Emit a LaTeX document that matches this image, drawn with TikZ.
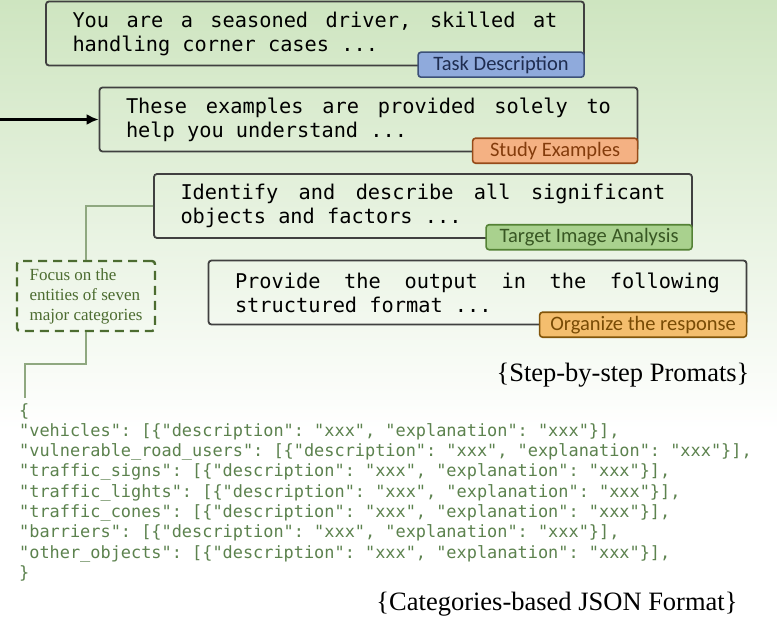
\documentclass[tikz,border=0pt]{standalone}
\usepackage{fontspec}
\setmainfont{Liberation Serif}
\setmonofont{DejaVu Sans Mono}
\newfontfamily\tagfont{Carlito}
\usetikzlibrary{arrows.meta,calc}

\definecolor{bgtop}{RGB}{206,229,192}
\definecolor{boxline}{RGB}{64,64,64}
\definecolor{linkgreen}{RGB}{143,168,128}
\definecolor{focusgreen}{RGB}{76,108,48}
\definecolor{jsongreen}{RGB}{92,130,78}
\definecolor{taskfill}{RGB}{143,170,220}
\definecolor{taskline}{RGB}{60,80,120}
\definecolor{tasktext}{RGB}{31,45,80}
\definecolor{studyfill}{RGB}{244,177,131}
\definecolor{studyline}{RGB}{150,75,25}
\definecolor{studytext}{RGB}{132,60,12}
\definecolor{targetfill}{RGB}{169,209,142}
\definecolor{targetline}{RGB}{84,130,53}
\definecolor{targettext}{RGB}{56,87,35}
\definecolor{orgfill}{RGB}{244,190,110}
\definecolor{orgline}{RGB}{130,85,10}
\definecolor{orgtext}{RGB}{120,75,5}

% a line whose word gaps stretch to the given width
\newcommand\spreadline[2]{\hbox to #1{\spaceskip=\fontdimen2\font plus 1fil\relax #2}}

\tikzset{
  promptbox/.style={draw=boxline, line width=1.8pt, rounded corners=3pt,
    minimum width=538pt, minimum height=64pt, text width=485pt, inner sep=0pt,
    align=flush left, font=\ttfamily\fontsize{20.3}{24}\selectfont},
  tagbox/.style={draw=#1line, fill=#1fill, text=#1text, line width=1.6pt,
    rounded corners=3pt, minimum height=25pt, inner sep=0pt,
    font=\tagfont\fontsize{20.5}{22}\selectfont, anchor=north east},
  link/.style={draw=linkgreen, line width=2.4pt},
  focusbox/.style={draw=focusgreen, line width=2.4pt, dash pattern=on 9pt off 6pt,
    rounded corners=3pt, minimum width=138pt, minimum height=70pt, inner sep=0pt,
    text=focusgreen, align=flush left, font=\fontsize{17}{20}\selectfont},
  caption/.style={font=\fontsize{26.5}{30}\selectfont, inner sep=0pt},
}

\begin{document}
\begin{tikzpicture}[x=1pt, y=-1pt]
  \useasboundingbox (0,0) rectangle (777,618);
  % background wash
  \fill[white] (0,0) rectangle (777,618);
  \shade[top color=bgtop, bottom color=white] (0,0) rectangle (777,430);

  % prompt boxes
  \node[promptbox] (task) at (315,33.5)
    {\spreadline{485pt}{You are a seasoned driver, skilled at}\\handling corner cases ...};
  \node[promptbox] (study) at (368.5,119.5)
    {\spreadline{485pt}{These examples are provided solely to}\\help you understand ...};
  \node[promptbox] (target) at (423,206)
    {\spreadline{485pt}{Identify and describe all significant}\\objects and factors ...};
  \node[promptbox] (organize) at (477.5,292.5)
    {\spreadline{485pt}{Provide the output in the following}\\structured format ...};

  % tags on the boxes
  \node[tagbox=task, minimum width=166pt] (tagtask) at ($(task.south east)+(0,-15)$) {Task Description};
  \node[tagbox=study, minimum width=165pt] (tagstudy) at ($(study.south east)+(0,-15)$) {Study Examples};
  \node[tagbox=target, minimum width=206pt] (tagtarget) at ($(target.south east)+(0,-15)$) {Target Image Analysis};
  \node[tagbox=org, minimum width=207pt] (tagorg) at ($(organize.south east)+(0,-14)$) {Organize the response};

  % incoming arrow
  \coordinate (src) at (0,119.5);
  \draw[line width=2.2pt, -{Latex[length=12pt,width=11pt]}] (src) -- (study.west);

  % category note and its links
  \node[focusbox] (focus) at (86,296) {Focus on the\\entities of seven\\major categories};
  \draw[link] (target.west) -| (focus.north);
  \coordinate (jsontop) at (25,398);
  \draw[link] (focus.south) -- ++(0,32) -| (jsontop);

  % JSON template
  \node[anchor=north west, inner sep=0pt, align=flush left, text=jsongreen,
        font=\ttfamily\fontsize{16.9}{20.3}\selectfont] (json) at (19,403)
  {\{\\
"vehicles": [\{"description": "xxx", "explanation": "xxx"\}],\\
"vulnerable\_road\_users": [\{"description": "xxx", "explanation": "xxx"\}],\\
"traffic\_signs": [\{"description": "xxx", "explanation": "xxx"\}],\\
"traffic\_lights": [\{"description": "xxx", "explanation": "xxx"\}],\\
"traffic\_cones": [\{"description": "xxx", "explanation": "xxx"\}],\\
"barriers": [\{"description": "xxx", "explanation": "xxx"\}],\\
"other\_objects": [\{"description": "xxx", "explanation": "xxx"\}],\\
\}};

  % captions
  \node[caption] (cap1) at (623,375) {\{Step-by-step Promats\}};
  \node[caption] (cap2) at (557,604) {\{Categories-based JSON Format\}};
\end{tikzpicture}
\end{document}
